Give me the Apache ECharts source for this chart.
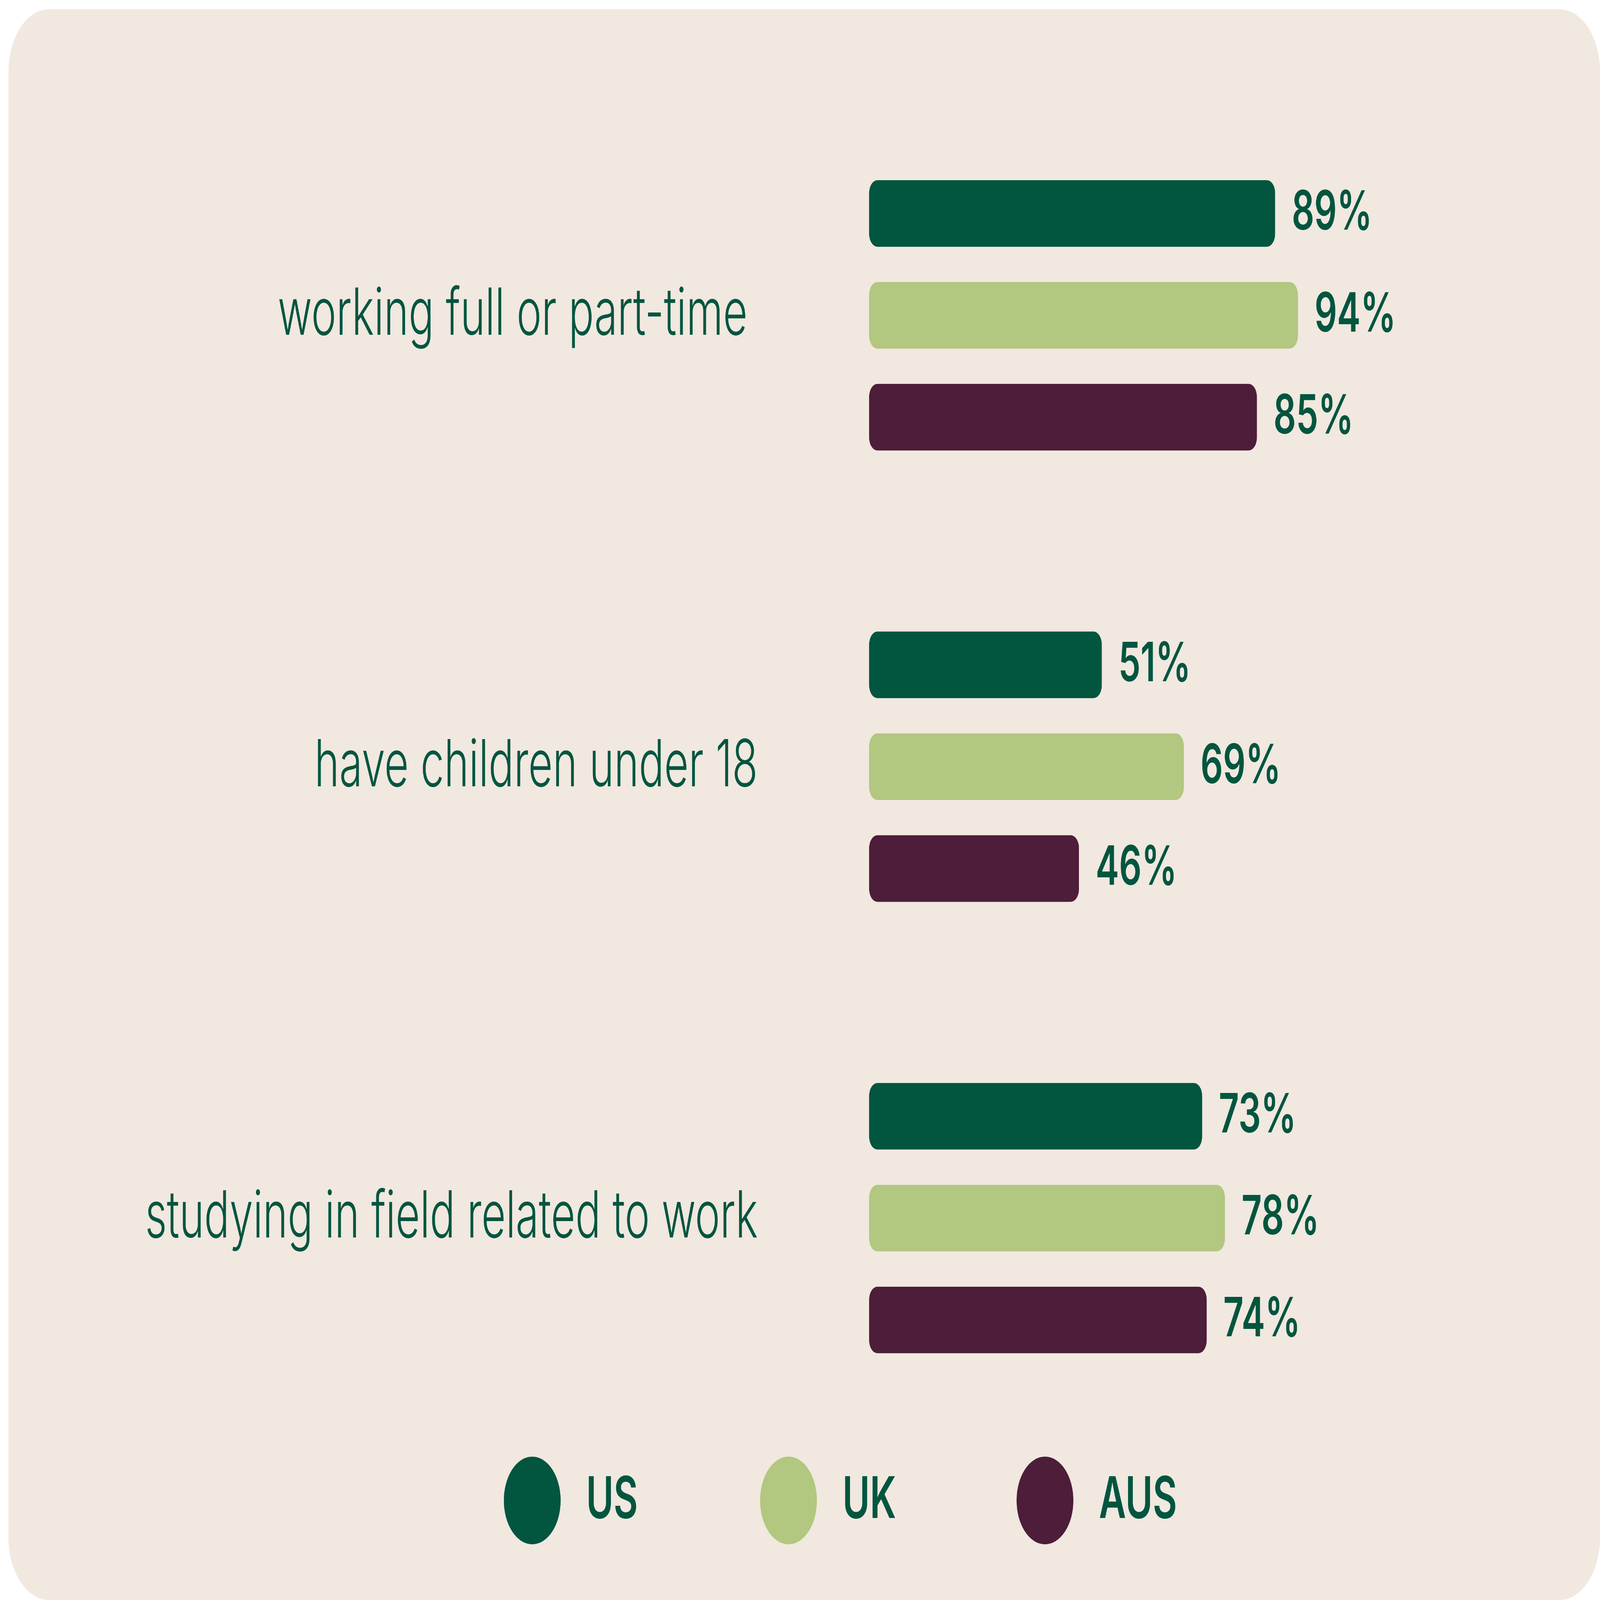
<!DOCTYPE html>
<html>
<head>
<meta charset="utf-8">
<script src="https://cdn.jsdelivr.net/npm/echarts@6/dist/echarts.min.js"></script>
<style>
  html, body { margin: 0; padding: 0; background: #ffffff; overflow: hidden; width: 100%; height: 100%; }
  #chart { position: absolute; left: 0; top: 0; width: 7717px; height: 4999px; transform-origin: 0 0; }
</style>
</head>
<body>
<div id="chart"></div>
<script>
const categories = ['working full or part-time', 'have children under 18', 'studying in field related to work'];
const seriesNames = ['US', 'UK', 'AUS'];
const usValues = [89, 51, 73];
const ukValues = [94, 69, 78];
const ausValues = [85, 46, 74];

const colors = { US: '#02553F', UK: '#B2C77F', AUS: '#4D1D3A' };
const textColor = '#02553F';
const bg = '#F1E8E0';
const valuesByName = { US: usValues, UK: ukValues, AUS: ausValues };

const BW = 7717, BH = 4999;
const el = document.getElementById('chart');
const vw = window.innerWidth || BW, vh = window.innerHeight || BH;
const fx = vw / BW, fy = vh / BH;
el.style.transform = 'scale(' + fx + ',' + fy + ')';
const dpr = Math.max(fx, fy) * (window.devicePixelRatio || 1);
const chart = echarts.init(el, null, { renderer: 'canvas', width: BW, height: BH, devicePixelRatio: dpr });

const legendLefts = [2430, 3666, 4903];

const option = {
  animation: false,
  backgroundColor: '#ffffff',
  graphic: [{
    type: 'rect',
    z: -10,
    silent: true,
    shape: { x: 41, y: 29, width: 7676, height: 4970, r: 195 },
    style: { fill: bg }
  }],
  grid: { left: 4192, width: 2200, top: 280, height: 4231, containLabel: false },
  xAxis: {
    type: 'value', min: 0, max: 100, show: false,
    splitLine: { show: false }
  },
  yAxis: {
    type: 'category',
    data: categories,
    inverse: true,
    axisLine: { show: false },
    axisTick: { show: false },
    splitLine: { show: false },
    axisLabel: {
      margin: 537,
      fontSize: 203,
      fontFamily: 'Inter',
      fontWeight: 300,
      color: textColor,
      formatter: (value, idx) => idx === 0 ? '{a|' + value + '}' : value,
      rich: {
        a: {
          fontSize: 203,
          fontFamily: 'Inter',
          fontWeight: 300,
          color: textColor,
          padding: [0, 50, 0, 0]
        }
      }
    }
  },
  legend: seriesNames.map((name, i) => ({
    data: [name],
    left: legendLefts[i],
    top: 4551,
    padding: 0,
    icon: 'circle',
    itemWidth: 274,
    itemHeight: 274,
    selectedMode: false,
    textStyle: {
      fontSize: 180,
      fontFamily: 'Inter',
      fontWeight: 600,
      color: textColor,
      padding: [0, 0, 0, 118]
    }
  })),
  series: seriesNames.map(name => ({
    name: name,
    type: 'bar',
    data: valuesByName[name],
    barWidth: 208,
    barGap: '53%',
    itemStyle: { color: colors[name], borderRadius: 40 },
    label: {
      show: true,
      position: 'right',
      distance: 80,
      formatter: '{c}%',
      fontSize: 170,
      fontFamily: 'Inter',
      fontWeight: 600,
      color: textColor
    }
  }))
};

chart.setOption(option);
</script>
</body>
</html>
